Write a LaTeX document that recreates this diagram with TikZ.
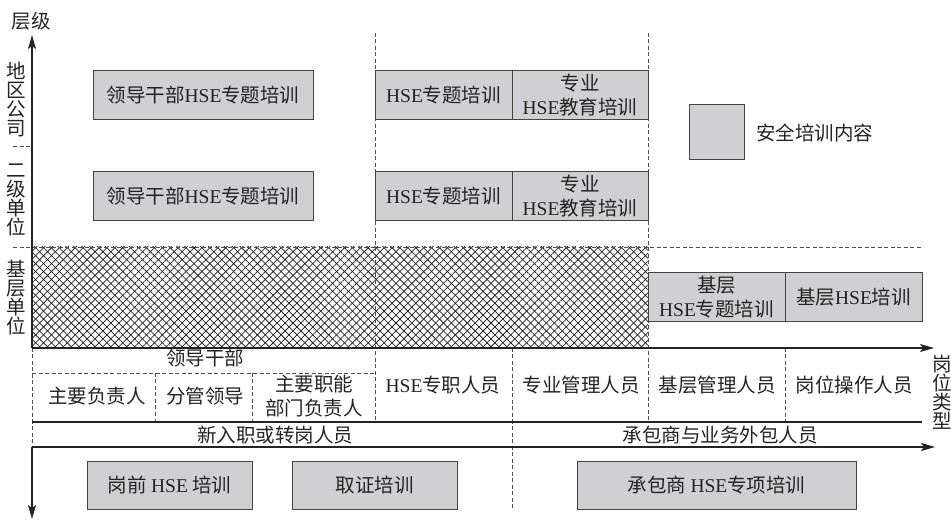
\documentclass[tikz,border=0pt]{standalone}
\usepackage{fontspec}
\setmainfont{Noto Sans CJK SC}
\newfontfamily\lat{Liberation Serif}
\newcommand\HSE{{\lat HSE}}
\usetikzlibrary{arrows.meta,patterns.meta}
\definecolor{boxfill}{RGB}{208,208,210}
\definecolor{ink}{RGB}{35,35,35}
\begin{document}
\begin{tikzpicture}[x=1pt,y=-1pt,
  every node/.style={text=ink, font=\fontsize{19.5}{24}\selectfont, inner sep=0pt},
  box/.style={draw=ink!85, line width=1pt, fill=boxfill, align=center},
  lbl/.style={align=center},
  vlbl/.style={align=center, font=\fontsize{19.5}{19}\selectfont},
  axis/.style={draw=ink, line width=1.3pt},
  ax/.style={axis, -{Stealth[length=14pt,width=8pt,inset=3pt]}},
  guide/.style={draw=ink!80, line width=0.6pt, dash pattern=on 4pt off 2.5pt},
  hatch/.style={pattern={Lines[angle=#1,distance=5.6pt,line width=0.75pt]}, pattern color=ink},
]
\useasboundingbox (0,0) rectangle (951,521);

% hatched region
\fill[hatch=45] (32,247) rectangle (648,348);
\fill[hatch=-45] (32,247) rectangle (648,348);

% named coordinates
\coordinate (o) at (32,348);
\coordinate (ytop) at (32,35);
\coordinate (o2) at (32,447);
\coordinate (ybot) at (32,519);
\coordinate (xend) at (934,348);
\coordinate (x2end) at (935,447);
\coordinate (m0) at (32,422);
\coordinate (m1) at (922,422);

% guides
\draw[guide] (13,146) -- (32,146);
\draw[guide] (13,247) -- (922,247);
\draw[guide] (375,33) -- (375,422);
\draw[guide] (648,33) -- (648,422);
\draw[guide] (512,348) -- (512,510);
\draw[guide] (785,348) -- (785,422);
\draw[guide] (32,373) -- (375,373);
\draw[guide] (155,373) -- (155,422);
\draw[guide] (252,373) -- (252,422);
\draw[guide] (o) -- (o2);

% axes
\draw[ax] (o) -- (ytop);
\draw[ax] (o2) -- (ybot);
\draw[ax] (o) -- (xend);
\draw[ax] (o2) -- (x2end);
\draw[axis] (m0) -- (m1);

% axis labels
\node (ylab) at (31.5,21) {层级};
\node[vlbl] (xlab) at (942,392) {岗\\位\\类\\型};
\node[vlbl] (l1) at (16,99.5) {地\\区\\公\\司};
\node[vlbl] (l2) at (16,199.5) {二\\级\\单\\位};
\node[vlbl] (l3) at (16,297.5) {基\\层\\单\\位};

% boxes
\node[box, minimum width=220pt, minimum height=49pt] (a1) at (203,95.5) {领导干部\HSE{}专题培训};
\node[box, minimum width=220pt, minimum height=49pt] (a2) at (203,196.5) {领导干部\HSE{}专题培训};
\node[box, minimum width=137pt, minimum height=49pt] (b1) at (443.5,95.5) {\HSE{}专题培训};
\node[box, minimum width=136pt, minimum height=49pt] (c1) at (580,95.5) {专业\\\HSE{}教育培训};
\node[box, minimum width=137pt, minimum height=49pt] (b2) at (443.5,196.5) {\HSE{}专题培训};
\node[box, minimum width=136pt, minimum height=49pt] (c2) at (580,196.5) {专业\\\HSE{}教育培训};
\node[box, minimum width=55pt, minimum height=55pt] (leg) at (716.5,132.5) {};
\node[anchor=west] (legt) at (756,133) {安全培训内容};
\node[box, minimum width=137pt, minimum height=49pt] (d1) at (716.5,297.5) {基层\\\HSE{}专题培训};
\node[box, minimum width=137pt, minimum height=49pt] (d2) at (853.5,297.5) {基层\HSE{}培训};
\node[box, minimum width=165pt, minimum height=48pt] (e1) at (169.5,485) {岗前 \HSE{} 培训};
\node[box, minimum width=165pt, minimum height=48pt] (e2) at (374.5,485) {取证培训};
\node[box, minimum width=279pt, minimum height=48pt] (f1) at (716.5,485) {承包商 \HSE{}专项培训};

% post labels
\node (p0) at (205,358) {领导干部};
\node (p1) at (97,396) {主要负责人};
\node (p2) at (205,396) {分管领导};
\node[lbl] (p3) at (314,396) {主要职能\\部门负责人};
\node (p4) at (443,385) {\HSE{}专职人员};
\node (p5) at (581,385) {专业管理人员};
\node (p6) at (717,385) {基层管理人员};
\node (p7) at (854,385) {岗位操作人员};
\node (g1) at (275,435) {新入职或转岗人员};
\node (g2) at (720,435) {承包商与业务外包人员};
\end{tikzpicture}
\end{document}
